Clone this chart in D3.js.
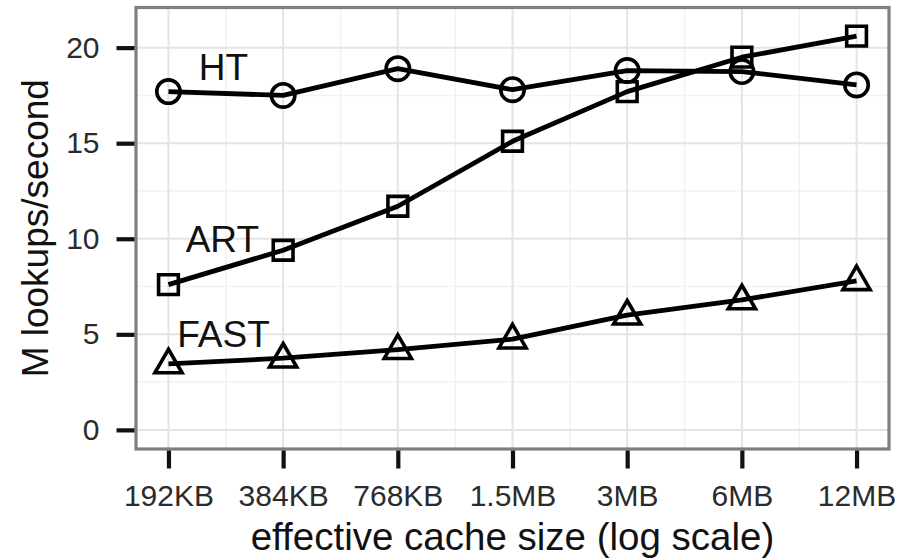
<!DOCTYPE html>
<html>
<head>
<meta charset="utf-8">
<script src="https://cdn.jsdelivr.net/npm/d3@7"></script>
<style>
  body { margin: 0; background: #fff; }
  svg { display: block; font-family: "Liberation Sans", Arial, Helvetica, sans-serif; }
</style>
</head>
<body>
<div id="chart"></div>
<script>
// data
const cacheSizes = ["192KB", "384KB", "768KB", "1.5MB", "3MB", "6MB", "12MB"];
const htValues   = [17.7, 17.5, 18.9, 17.8, 18.8, 18.75, 18.05];
const artValues  = [7.6, 9.4, 11.7, 15.1, 17.7, 19.5, 20.6];
const fastValues = [3.45, 3.75, 4.2, 4.75, 6.0, 6.8, 7.8];
const yTicks = [0, 5, 10, 15, 20];
const yMinor = [2.5, 7.5, 12.5, 17.5];

// series labels: name, x position (category index), y value
const seriesNames = ["HT", "ART", "FAST"];
const labelPos = [[0.48, 19.0], [0.47, 10.0], [0.48, 5.05]];

const width = 912, height = 560;
const panel = { left: 136, right: 889, top: 7.5, bottom: 449 };

const svg = d3.select("#chart")
    .append("svg")
    .attr("width", width)
    .attr("height", height);

const x = d3.scalePoint()
    .domain(cacheSizes)
    .range([panel.left, panel.right])
    .padding(0.283);

const y = d3.scaleLinear()
    .domain([-1.0, 22.1])
    .range([panel.bottom, panel.top]);

const step = x.step();
const xi = i => x(cacheSizes[0]) + i * step;

// panel background + grid
svg.append("rect")
    .attr("x", panel.left).attr("y", panel.top)
    .attr("width", panel.right - panel.left)
    .attr("height", panel.bottom - panel.top)
    .attr("fill", "#fff");

const grid = svg.append("g");

grid.selectAll(".ymin")
    .data(yMinor)
    .enter().append("line")
    .attr("x1", panel.left).attr("x2", panel.right)
    .attr("y1", d => y(d)).attr("y2", d => y(d))
    .attr("stroke", "#f2f2f2").attr("stroke-width", 1.5);

grid.selectAll(".xmin")
    .data(d3.range(cacheSizes.length - 1))
    .enter().append("line")
    .attr("x1", d => xi(d + 0.5)).attr("x2", d => xi(d + 0.5))
    .attr("y1", panel.top).attr("y2", panel.bottom)
    .attr("stroke", "#f2f2f2").attr("stroke-width", 1.5);

grid.selectAll(".ymaj")
    .data(yTicks)
    .enter().append("line")
    .attr("x1", panel.left).attr("x2", panel.right)
    .attr("y1", d => y(d)).attr("y2", d => y(d))
    .attr("stroke", "#e4e4e4").attr("stroke-width", 2);

grid.selectAll(".xmaj")
    .data(cacheSizes)
    .enter().append("line")
    .attr("x1", d => x(d)).attr("x2", d => x(d))
    .attr("y1", panel.top).attr("y2", panel.bottom)
    .attr("stroke", "#e4e4e4").attr("stroke-width", 2);

// lines
const series = [htValues, artValues, fastValues];
const line = d3.line()
    .x((d, i) => x(cacheSizes[i]))
    .y(d => y(d));

svg.append("g")
    .selectAll("path")
    .data(series)
    .enter().append("path")
    .attr("d", line)
    .attr("fill", "none")
    .attr("stroke", "#000")
    .attr("stroke-width", 4.8)
    .attr("stroke-linejoin", "round");

// markers
const symbols = [d3.symbolCircle, d3.symbolSquare, d3.symbolTriangle];
const symSize = [430, 390, 320];

series.forEach((vals, s) => {
    const sym = d3.symbol().type(symbols[s]).size(symSize[s]);
    svg.append("g")
        .selectAll("path")
        .data(vals)
        .enter().append("path")
        .attr("transform", (d, i) => `translate(${x(cacheSizes[i])},${y(d) + (s === 2 ? 1 : 0)})`)
        .attr("d", sym)
        .attr("fill", "none")
        .attr("stroke", "#000")
        .attr("stroke-width", 3.6);
});

// series labels
svg.append("g")
    .selectAll("text")
    .data(seriesNames)
    .enter().append("text")
    .attr("x", (d, i) => xi(labelPos[i][0]))
    .attr("y", (d, i) => y(labelPos[i][1]))
    .attr("dy", "0.36em")
    .attr("text-anchor", "middle")
    .attr("fill", "#111")
    .style("font-size", "37px")
    .text(d => d);

// panel border
svg.append("rect")
    .attr("x", panel.left).attr("y", panel.top)
    .attr("width", panel.right - panel.left)
    .attr("height", panel.bottom - panel.top)
    .attr("fill", "none")
    .attr("stroke", "#7f7f7f")
    .attr("stroke-width", 3.2);

// axes
const xAxis = svg.append("g")
    .attr("transform", `translate(0,${panel.bottom + 1.5})`)
    .call(d3.axisBottom(x).tickSize(18).tickPadding(16));

const yAxis = svg.append("g")
    .attr("transform", `translate(${panel.left - 1.5},0)`)
    .call(d3.axisLeft(y).tickValues(yTicks).tickSize(18).tickPadding(17));

[xAxis, yAxis].forEach(a => {
    a.select(".domain").remove();
    a.selectAll(".tick line").attr("stroke", "#111").attr("stroke-width", 4.2);
    a.selectAll(".tick text")
        .attr("fill", "#2b2b2b")
        .style("font-size", "30px")
        .style("font-family", "'Liberation Sans', Arial, sans-serif");
});

// axis titles
svg.append("text")
    .attr("x", (panel.left + panel.right) / 2)
    .attr("y", 550)
    .attr("text-anchor", "middle")
    .attr("fill", "#111")
    .style("font-size", "38.5px")
    .text("effective cache size (log scale)");

svg.append("text")
    .attr("transform", "rotate(-90)")
    .attr("x", -(panel.top + panel.bottom) / 2)
    .attr("y", 48)
    .attr("text-anchor", "middle")
    .attr("fill", "#111")
    .style("font-size", "37px")
    .text("M lookups/second");
</script>
</body>
</html>
